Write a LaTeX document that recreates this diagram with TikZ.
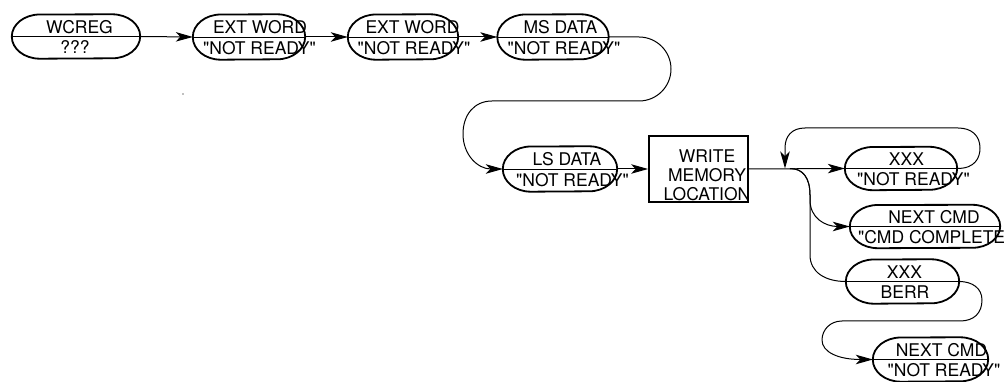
\documentclass[tikz,border=0pt]{standalone}
\usepackage{fontspec}
\setmainfont{TeX Gyre Heros}[Ligatures=TeXOff]
\usetikzlibrary{arrows.meta}
\tikzset{
  stad/.style={rectangle, inner sep=0pt},
  border/.style={line width=1.8pt},
  boxst/.style={draw, line width=1.8pt, inner sep=0pt},
  lbl/.style={inner sep=0pt, anchor=base, font=\fontsize{17.5}{19}\selectfont},
  midl/.style={line width=0.9pt},
  conn/.style={line width=1pt},
  arr/.style={conn, -{Stealth[length=17pt,width=9.5pt,inset=4.5pt]}}
}
\newcommand\stadnode[9]{%
  \node[stad, minimum width=#4pt, minimum height=#5pt] (#1) at (#2,#3) {};
  \draw[border] (#1.west) arc[start angle=180,end angle=90,x radius=28pt,y radius={#5pt/2}]
    -- ([xshift=-28pt]#1.north east) arc[start angle=90,end angle=-90,x radius=28pt,y radius={#5pt/2}]
    -- ([xshift=28pt]#1.south west) arc[start angle=270,end angle=180,x radius=28pt,y radius={#5pt/2}] -- cycle;
  \draw[midl] (#1.west) -- (#1.east);
  \node[lbl] (#1-t) at ([yshift=3pt]#6,#3) {#7};
  \node[lbl] (#1-b) at ([yshift=-17.5pt]#8,#3) {#9};
}
\begin{document}
\begin{tikzpicture}[x=1pt,y=-1pt]
\useasboundingbox (0,0) rectangle (1005,382);
\stadnode{wcreg}{76}{36.5}{128}{44}{79.5}{WCREG}{75}{???}
\stadnode{extA}{249}{37}{112}{45}{260}{EXT WORD}{259.5}{"NOT READY"}
\stadnode{extB}{403}{37}{110}{45}{412.5}{EXT WORD}{414}{"NOT READY"}
\stadnode{ms}{553}{37}{111}{45}{560.5}{MS DATA}{564}{"NOT READY"}
\stadnode{ls}{560}{169}{114}{45}{567}{LS DATA}{572.5}{"NOT READY"}
\node[boxst, minimum width=99pt, minimum height=66pt] (box) at (698.5,169) {};
\node[lbl, anchor=center, align=center, font=\fontsize{17.5}{19}\selectfont] (box-t) at (707,175.5) {WRITE\\MEMORY\\LOCATION};
\stadnode{xa}{901}{168.5}{112}{43}{906.5}{XXX}{913.5}{"NOT READY"}
\stadnode{nca}{925}{226.5}{150}{43}{934}{NEXT CMD}{934.7}{"CMD COMPLETE"}
\stadnode{berr}{902.5}{281.5}{113}{44}{904.5}{XXX}{905}{BERR}
\stadnode{ncb}{930.5}{359.5}{115}{44}{941.5}{NEXT CMD}{944}{"NOT READY"}
\fill[gray] (183,94) circle[radius=0.8pt];
\coordinate (j) at (785,168.5);
\coordinate (j2) at (790,168.5);
\draw[arr] (wcreg.east) -- (extA.west);
\draw[arr] (extA.east) -- (extB.west);
\draw[arr] (extB.east) -- (ms.west);
\draw[arr] (ms.east) -- (639,37) arc[start angle=90,end angle=-90,radius=32pt]
  -- (492,101) .. controls (474,101) and (463,115) .. (463,134)
  .. controls (463,155) and (478,169) .. (ls.west);
\draw[arr] (ls.east) -- (box.west);
\draw[arr] (box.east) -- (xa.west);
\draw[arr] (xa.east) .. controls (975,168.5) and (980,158) .. (980,148)
  .. controls (980,136) and (972,128) .. (958,128) -- (805,128)
  .. controls (792,128) and (785,136) .. (785,148) -- (j);
\draw[arr] (j2) .. controls (803,168.5) and (810,178) .. (810,195)
  -- (810,200) .. controls (810,218) and (825,226.5) .. (nca.west);
\draw[conn] (j2) .. controls (803,168.5) and (810,178) .. (810,195)
  -- (810,255) .. controls (810,272) and (825,281.5) .. (berr.west);
\draw[arr] (berr.east) .. controls (972,281.5) and (982,288) .. (982,300)
  .. controls (982,313) and (974,321) .. (960,321) -- (842,321)
  .. controls (830,321) and (822,330) .. (822,340)
  .. controls (822,352) and (838,359.5) .. (ncb.west);
\end{tikzpicture}
\end{document}
